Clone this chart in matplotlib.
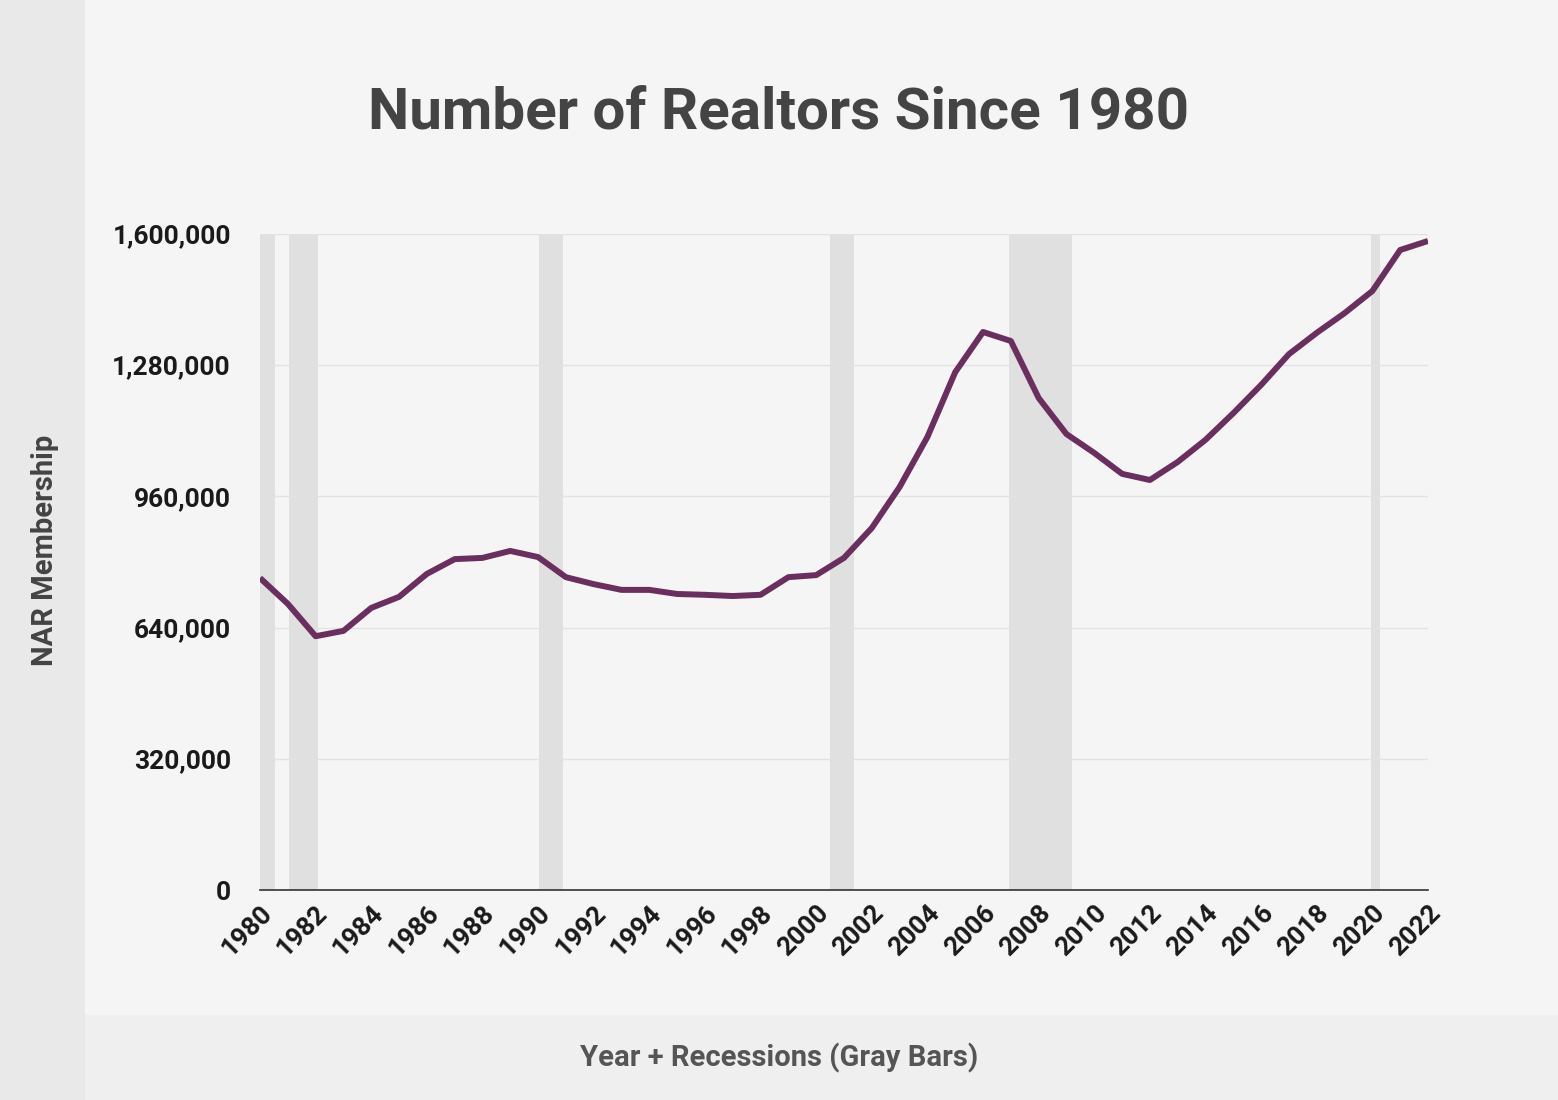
import matplotlib
matplotlib.use('Agg')
import matplotlib.pyplot as plt
from matplotlib.ticker import FuncFormatter

plt.rcParams['font.family'] = ['Roboto', 'DejaVu Sans']

# NAR membership per year
years = list(range(1980, 2023))
members = [761000, 698000, 619000, 632000, 688000, 715000, 771000, 807000, 810000, 827000,
           812000, 763000, 746000, 732000, 732000, 722000, 720000, 717000, 720000, 763000,
           768000, 810000, 883000, 983000, 1105000, 1263000, 1361000, 1339000, 1200000, 1112000,
           1066000, 1015000, 1000000, 1044000, 1098000, 1163000, 1232000, 1307000, 1359000, 1407000,
           1461000, 1561000, 1583000]

# recession periods (gray bars)
recessions = [(1980.0, 1980.55), (1981.05, 1982.1), (1990.03, 1990.9),
              (2000.5, 2001.36), (2006.93, 2009.2), (2019.95, 2020.27)]

y_ticks = [0, 320000, 640000, 960000, 1280000, 1600000]
x_ticks = list(range(1980, 2023, 2))

fig = plt.figure(figsize=(15.58, 11), dpi=100)
fig.patch.set_facecolor('#f5f5f6')

# side and bottom bands of the background
fig.patches.append(plt.Rectangle((0, 0), 85 / 1558, 1, transform=fig.transFigure,
                                 facecolor='#e9e9e9', edgecolor='none', zorder=0))
fig.patches.append(plt.Rectangle((85 / 1558, 0), 1, 85 / 1100, transform=fig.transFigure,
                                 facecolor='#efefef', edgecolor='none', zorder=0))

ax = fig.add_axes([260 / 1558, 1 - 890 / 1100, 1168 / 1558, 656 / 1100])
ax.set_facecolor('none')

for start, end in recessions:
    ax.axvspan(start, end, color='#e0e0e0', lw=0, zorder=1)

ax.plot(years, members, color='#6a2f5f', lw=4.3, solid_joinstyle='round',
        solid_capstyle='butt', zorder=3)

ax.set_xlim(1980, 2022)
ax.set_ylim(0, 1600000)
ax.set_yticks(y_ticks)
ax.yaxis.set_major_formatter(FuncFormatter(lambda v, p: f'{int(v):,}'))
ax.set_xticks(x_ticks)
ax.set_xticklabels([str(x) for x in x_ticks], rotation=45, ha='right', rotation_mode='anchor')

ax.grid(axis='y', color='#e2e2e2', lw=1, zorder=0)
ax.grid(axis='x', visible=False)
for s in ['top', 'right', 'left']:
    ax.spines[s].set_visible(False)
ax.spines['bottom'].set_color('#333333')
ax.spines['bottom'].set_linewidth(1.2)
ax.tick_params(axis='both', length=0, labelsize=19, labelcolor='#1a1a1a')
ax.tick_params(axis='y', pad=21)
ax.tick_params(axis='x', pad=8)
for lab in ax.get_xticklabels() + ax.get_yticklabels():
    lab.set_fontweight('bold')

fig.text(0.5, 1 - 113 / 1100, 'Number of Realtors Since 1980', ha='center', va='center',
         fontsize=42, fontweight='bold', color='#444444')
fig.text(45 / 1558, 1 - 550 / 1100, 'NAR Membership', ha='center', va='center',
         rotation=90, fontsize=21, fontweight='bold', color='#444444')
fig.text(779 / 1558, 1 - 1058 / 1100, 'Year + Recessions (Gray Bars)', ha='center', va='center',
         fontsize=21, fontweight='bold', color='#555555')

fig.savefig('out.png', dpi=100, facecolor=fig.get_facecolor())
